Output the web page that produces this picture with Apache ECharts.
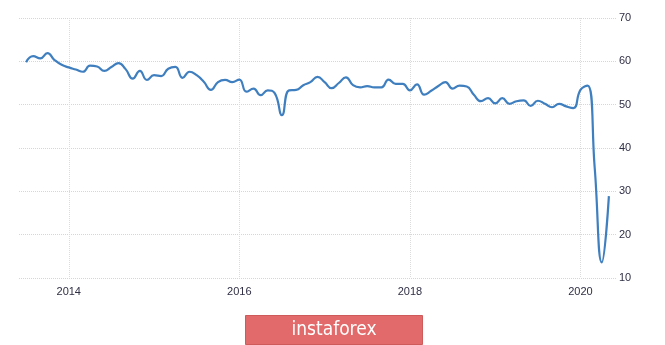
<!DOCTYPE html>
<html>
<head>
<meta charset="utf-8">
<script src="https://cdn.jsdelivr.net/npm/echarts@6/dist/echarts.min.js"></script>
<style>
  html, body { margin: 0; padding: 0; background: #ffffff; }
  #chart { width: 665px; height: 345px; }
</style>
</head>
<body>
<div id="chart"></div>
<script>
// Monthly series, July 2013 - May 2020
const firstYear = 2013;
const firstMonth = 7;
const values = [
  59.8, 61.2, 60.7, 61.9, 60.3, 59.2,
  58.6, 58.1, 57.6, 59.0, 58.8, 57.8, 58.7, 59.6, 58.2, 56.0, 57.8, 55.7,
  56.8, 56.6, 58.3, 58.7, 56.2, 57.6, 56.8, 55.3, 53.4, 55.2, 55.7, 55.2,
  55.8, 53.0, 53.7, 52.2, 53.3, 52.6, 47.6, 53.3, 53.4, 54.5, 55.2, 56.4,
  55.2, 53.8, 55.0, 56.3, 54.5, 54.0, 54.3, 54.0, 54.0, 55.8, 54.8, 54.8,
  53.3, 54.7, 52.3, 53.2, 54.3, 55.2, 53.7, 54.4, 54.2, 52.3, 50.8, 51.5,
  50.3, 51.5, 50.2, 50.8, 51.0, 49.7, 50.9, 50.2, 49.4, 50.2, 49.6, 49.2,
  53.4, 54.4, 35.5, 13.6, 28.9
];
const yTicks = [10, 20, 30, 40, 50, 60, 70];
const xTickYears = [2014, 2016, 2018, 2020];

// Build month categories with one empty month of padding on each side
const categories = [];
const seriesData = [];
for (let i = -1; i <= values.length; i++) {
  const m0 = firstMonth - 1 + i;
  const y = firstYear + Math.floor(m0 / 12);
  const m = ((m0 % 12) + 12) % 12 + 1;
  categories.push(y + '-' + (m < 10 ? '0' + m : m));
  seriesData.push(i >= 0 && i < values.length ? values[i] : null);
}
function isTick(idx) {
  const c = categories[idx];
  const y = +c.slice(0, 4), m = +c.slice(5, 7);
  return m === 1 && xTickYears.indexOf(y) >= 0;
}

const chart = echarts.init(document.getElementById('chart'), null, { renderer: 'canvas' });
chart.setOption({
  backgroundColor: '#ffffff',
  animation: false,
  grid: { left: 19, right: 49, top: 18, bottom: 67, containLabel: false },
  xAxis: {
    type: 'category',
    data: categories,
    boundaryGap: false,
    axisLine: { show: false },
    axisTick: { show: false },
    axisLabel: {
      interval: function (idx) { return isTick(idx); },
      formatter: function (v) { return v.slice(0, 4); },
      color: '#2f2f45',
      fontSize: 11,
      fontFamily: 'Liberation Sans, Arial, sans-serif',
      margin: 8
    },
    splitLine: {
      show: true,
      interval: function (idx) { return isTick(idx); },
      lineStyle: { color: '#dcdcdc', type: 'dotted', width: 1 }
    }
  },
  yAxis: {
    type: 'value',
    position: 'right',
    min: yTicks[0],
    max: yTicks[yTicks.length - 1],
    interval: 10,
    axisLine: { show: false },
    axisTick: { show: false },
    axisLabel: {
      color: '#2f2f45',
      fontSize: 11,
      fontFamily: 'Liberation Sans, Arial, sans-serif',
      margin: 3
    },
    splitLine: { show: true, lineStyle: { color: '#d6d6d6', type: 'dotted', width: 1 } }
  },
  series: [{
    type: 'line',
    data: seriesData,
    smooth: 0.5,
    showSymbol: false,
    connectNulls: false,
    lineStyle: { color: '#3f7fbf', width: 2.2 },
    itemStyle: { color: '#3f7fbf' }
  }],
  graphic: [{
    type: 'group',
    left: 245,
    top: 315,
    children: [
      { type: 'rect', shape: { x: 0, y: 0, width: 177, height: 29 },
        style: { fill: '#e36a6a', stroke: '#cf5a5a', lineWidth: 1 } },
      { type: 'text', x: 88.5, y: 14.5,
        style: { text: 'instaforex', fill: '#ffffff', fontSize: 19,
                 fontFamily: 'Liberation Sans Narrow, DejaVu Sans Condensed, Arial Narrow, sans-serif',
                 align: 'center', verticalAlign: 'middle' } }
    ]
  }]
});
</script>
</body>
</html>
